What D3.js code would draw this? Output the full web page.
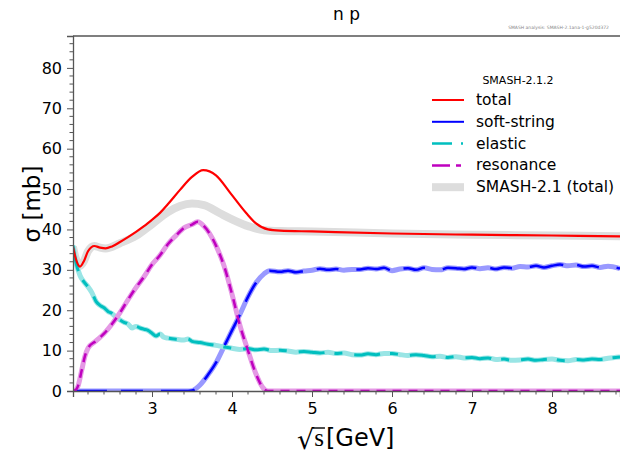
<!DOCTYPE html>
<html>
<head>
<meta charset="utf-8">
<script src="https://cdn.jsdelivr.net/npm/d3@7"></script>
<style>
  body { margin: 0; background: white; }
  text { font-family: "DejaVu Sans", sans-serif; }
</style>
</head>
<body>
<div id="chart"></div>
<script>
const width = 620;
const height = 456;

// sqrt(s) [GeV] , sigma [mb]
const total = [[2.012, 35.7], [2.05, 32.6], [2.1, 30.8], [2.15, 32.2], [2.2, 34.6], [2.28, 35.9], [2.35, 35.5],
  [2.42, 35.3], [2.5, 35.8], [2.6, 36.9], [2.7, 38.1], [2.8, 39.4], [2.9, 40.8], [3.0, 42.4], [3.1, 44.1],
  [3.2, 46.3], [3.35, 49.8], [3.5, 53.0], [3.64, 54.7], [3.8, 53.4], [3.98, 49.0], [4.18, 44.0], [4.3, 41.5],
  [4.45, 40.0], [4.6, 39.7], [5.0, 39.5], [6.0, 39.0], [7.0, 38.7], [8.0, 38.5], [8.85, 38.3]];

const totalOld = [[2.012, 35.7], [2.05, 32.6], [2.1, 31.0], [2.15, 32.2], [2.2, 34.6], [2.28, 35.9], [2.35, 35.5],
  [2.42, 35.3], [2.6, 36.6], [2.8, 38.4], [3.0, 41.3], [3.2, 44.3], [3.35, 45.8], [3.5, 46.4], [3.65, 46.0],
  [3.85, 44.0], [3.98, 42.7], [4.22, 40.7], [4.4, 39.8], [4.6, 39.6], [5.0, 39.5], [6.0, 39.0], [7.0, 38.7],
  [8.0, 38.5], [8.85, 38.3]];

const softString = [[2.012, 0], [3.45, 0], [3.5, 0.1], [3.6, 1.5], [3.7, 4.0], [3.8, 7.0], [3.9, 11.0], [4.0, 15.0],
  [4.1, 19.0], [4.2, 23.3], [4.3, 26.8], [4.4, 29.0], [4.47, 29.8], [4.6, 29.5], [4.7, 29.8], [4.8, 29.4],
  [4.9, 29.7], [5.0, 29.9], [5.1, 30.3], [5.2, 30.0], [5.3, 30.2], [5.4, 29.9], [5.5, 30.1], [5.6, 30.1],
  [5.7, 30.4], [5.8, 30.2], [5.9, 30.5], [6.0, 29.8], [6.1, 30.2], [6.2, 30.4], [6.3, 30.0], [6.4, 30.5],
  [6.5, 30.1], [6.6, 30.0], [6.7, 30.5], [6.8, 30.4], [6.9, 30.2], [7.0, 30.6], [7.1, 30.3], [7.2, 30.5],
  [7.3, 30.2], [7.4, 30.6], [7.5, 30.4], [7.6, 30.8], [7.7, 30.7], [7.8, 31.0], [7.9, 30.6], [8.0, 31.0],
  [8.1, 31.3], [8.2, 31.0], [8.3, 31.2], [8.4, 30.8], [8.5, 31.0], [8.6, 30.6], [8.7, 30.9], [8.85, 30.3]];

const elastic = [[2.012, 36.0], [2.05, 31.8], [2.1, 28.6], [2.15, 27.0], [2.2, 25.8], [2.25, 24.3], [2.3, 22.2],
  [2.35, 21.2], [2.4, 20.6], [2.45, 19.7], [2.5, 19.2], [2.55, 18.3], [2.6, 17.6], [2.65, 17.0], [2.7, 16.6],
  [2.75, 15.6], [2.8, 16.0], [2.85, 15.6], [2.9, 15.3], [2.95, 15.0], [3.0, 14.3], [3.05, 13.6], [3.1, 14.1],
  [3.15, 13.3], [3.2, 13.1], [3.3, 12.8], [3.4, 12.6], [3.45, 12.9], [3.5, 12.3], [3.6, 12.0], [3.7, 11.6],
  [3.8, 11.3], [3.9, 10.9], [4.0, 10.6], [4.1, 10.3], [4.2, 10.5], [4.3, 10.2], [4.4, 10.4], [4.5, 10.0],
  [4.6, 10.1], [4.7, 9.9], [4.8, 9.6], [4.9, 9.8], [5.0, 9.6], [5.1, 9.4], [5.2, 9.6], [5.3, 9.3], [5.4, 9.4],
  [5.5, 9.0], [5.6, 8.9], [5.7, 9.2], [5.8, 9.0], [5.9, 9.3], [6.0, 9.3], [6.1, 9.0], [6.2, 8.8], [6.3, 9.0],
  [6.4, 8.8], [6.5, 8.5], [6.6, 8.6], [6.7, 8.3], [6.8, 8.5], [6.9, 8.2], [7.0, 8.3], [7.1, 8.0], [7.2, 8.2],
  [7.3, 7.8], [7.4, 7.9], [7.5, 7.6], [7.6, 7.7], [7.7, 7.9], [7.8, 7.6], [7.9, 7.8], [8.0, 7.9], [8.1, 7.6],
  [8.2, 7.5], [8.3, 7.8], [8.4, 7.7], [8.5, 7.9], [8.6, 7.8], [8.7, 8.1], [8.85, 8.4]];

const resonance = [[2.012, 0], [2.05, 0.3], [2.08, 1.5], [2.12, 5.0], [2.16, 8.5], [2.2, 10.6], [2.3, 12.4],
  [2.4, 14.2], [2.5, 16.6], [2.6, 19.4], [2.7, 22.6], [2.8, 25.6], [2.9, 28.3], [3.0, 31.3], [3.1, 33.6],
  [3.2, 36.4], [3.3, 38.5], [3.4, 40.4], [3.5, 41.2], [3.57, 41.9], [3.65, 40.8], [3.72, 39.0], [3.8, 36.0],
  [3.9, 31.0], [4.0, 24.0], [4.1, 16.2], [4.2, 10.0], [4.3, 4.2], [4.38, 1.0], [4.45, 0], [8.85, 0]];

const xTicks = [3, 4, 5, 6, 7, 8];
const yTicks = [0, 10, 20, 30, 40, 50, 60, 70, 80];

const legendItems = [
  { label: 'total', color: '#ff0000', width: 2, dash: null },
  { label: 'soft-string', color: '#0000ff', width: 2, dash: null },
  { label: 'elastic', color: '#00bfbf', width: 2.5, dash: '20,9,2,9' },
  { label: 'resonance', color: '#bf00bf', width: 2.5, dash: '18,6,5,6' },
  { label: 'SMASH-2.1 (total)', color: '#dddddd', width: 8, dash: null }
];

const margin = { left: 73, right: 0, top: 36, bottom: 65 };
const plotW = width - margin.left - margin.right;
const plotH = height - margin.top - margin.bottom;

const svg = d3.select('#chart').append('svg')
  .attr('width', width)
  .attr('height', height)
  .style('background-color', 'white');

const scaleX = d3.scaleLinear()
  .domain([2.0125, 8.85])
  .range([margin.left, margin.left + plotW]);

const scaleY = d3.scaleLinear()
  .domain([0, 87.9])
  .range([margin.top + plotH, margin.top]);

svg.append('defs').append('clipPath')
  .attr('id', 'plotclip')
  .append('rect')
  .attr('x', margin.left)
  .attr('y', margin.top - 5)
  .attr('width', plotW)
  .attr('height', plotH + 5);

const line = d3.line()
  .x(d => scaleX(d[0]))
  .y(d => scaleY(d[1]))
  .curve(d3.curveMonotoneX);

const plot = svg.append('g').attr('clip-path', 'url(#plotclip)');

// light bands (SMASH-2.1)
plot.append('path').datum(totalOld)
  .attr('d', line).attr('fill', 'none')
  .attr('stroke', '#dddddd').attr('stroke-width', 8).attr('stroke-linejoin', 'round');
plot.append('path').datum(softString)
  .attr('d', line).attr('fill', 'none')
  .attr('stroke', '#9999ff').attr('stroke-width', 5);
plot.append('path').datum(elastic)
  .attr('d', line).attr('fill', 'none')
  .attr('stroke', '#99e5e5').attr('stroke-width', 5);
plot.append('path').datum(resonance)
  .attr('d', line).attr('fill', 'none')
  .attr('stroke', '#e599e5').attr('stroke-width', 5);

// current lines
plot.append('path').datum(softString)
  .attr('d', line).attr('fill', 'none')
  .attr('stroke', '#0000ff').attr('stroke-width', 2.5)
  .attr('stroke-dasharray', '34,14,22,18');
plot.append('path').datum(elastic)
  .attr('d', line).attr('fill', 'none')
  .attr('stroke', '#00bfbf').attr('stroke-width', 3)
  .attr('stroke-dasharray', '26,10,8,12');
plot.append('path').datum(resonance)
  .attr('d', line).attr('fill', 'none')
  .attr('stroke', '#bf00bf').attr('stroke-width', 2.5)
  .attr('stroke-dasharray', '9,7');
plot.append('path').datum(total)
  .attr('d', line).attr('fill', 'none')
  .attr('stroke', '#ff0000').attr('stroke-width', 2.2);

// axes
const axisColor = '#555';
const xMinor = d3.range(2.2, 8.85, 0.2).filter(v => Math.abs(v - Math.round(v)) > 0.01);
const yMinor = d3.range(2, 88, 2).filter(v => v % 10 !== 0);

const xAxis = svg.append('g')
  .attr('transform', `translate(0, ${margin.top + plotH})`)
  .call(d3.axisBottom(scaleX).tickValues(xTicks).tickSize(6).tickPadding(6).tickFormat(d3.format('d')));
xAxis.append('g').selectAll('line').data(xMinor).enter().append('line')
  .attr('x1', d => scaleX(d)).attr('x2', d => scaleX(d))
  .attr('y1', 0).attr('y2', 3.5).attr('stroke', axisColor);

const yAxis = svg.append('g')
  .attr('transform', `translate(${margin.left}, 0)`)
  .call(d3.axisLeft(scaleY).tickValues(yTicks).tickSize(6).tickPadding(5).tickFormat(d3.format('d')));
yAxis.append('g').selectAll('line').data(yMinor).enter().append('line')
  .attr('y1', d => scaleY(d)).attr('y2', d => scaleY(d))
  .attr('x1', 0).attr('x2', -3.5).attr('stroke', axisColor);

[xAxis, yAxis].forEach(ax => {
  ax.select('.domain').attr('stroke', axisColor).attr('stroke-width', 1.3);
  ax.selectAll('.tick line').attr('stroke', axisColor);
  ax.selectAll('.tick text')
    .attr('fill', '#000')
    .style('font-family', '"DejaVu Sans", sans-serif')
    .style('font-size', '16px');
});

// top spine
svg.append('line')
  .attr('x1', margin.left).attr('x2', margin.left + plotW)
  .attr('y1', margin.top).attr('y2', margin.top)
  .attr('stroke', axisColor).attr('stroke-width', 1.3);

// title
svg.append('text')
  .attr('x', margin.left + plotW / 2)
  .attr('y', 20)
  .attr('text-anchor', 'middle')
  .style('font-size', '17px')
  .text('n p');

// small version note
svg.append('text')
  .attr('x', 609)
  .attr('y', 29)
  .attr('text-anchor', 'end')
  .attr('fill', '#888')
  .style('font-size', '4.5px')
  .text('SMASH analysis: SMASH-2.1ana-1-g520d372');

// y label
svg.append('text')
  .attr('transform', 'translate(40, 204) rotate(-90)')
  .attr('text-anchor', 'middle')
  .style('font-size', '23px')
  .text('σ [mb]');

// x label: sqrt(s) [GeV]
const xLabel = svg.append('text')
  .attr('x', 297)
  .attr('y', 446)
  .style('font-size', '24px');
xLabel.append('tspan')
  .attr('dy', 3)
  .style('font-family', '"DejaVu Serif", serif')
  .style('font-size', '27px')
  .text('√');
const sSpan = xLabel.append('tspan')
  .attr('dy', -3)
  .style('font-family', '"Liberation Serif", serif')
  .style('font-size', '25px')
  .text('s');
xLabel.append('tspan').attr('dx', 2).text('[GeV]');

const sBox = sSpan.node().getBBox();
svg.append('line')
  .attr('x1', sBox.x - 2).attr('x2', sBox.x + sBox.width + 1)
  .attr('y1', 428).attr('y2', 428)
  .attr('stroke', '#000').attr('stroke-width', 1.4);

// legend
const legend = svg.append('g');
legend.append('text')
  .attr('x', 518)
  .attr('y', 84)
  .attr('text-anchor', 'middle')
  .style('font-size', '11px')
  .text('SMASH-2.1.2');

legendItems.forEach((item, i) => {
  const y = 100 + i * 21.8;
  legend.append('line')
    .attr('x1', 432).attr('x2', 464)
    .attr('y1', y).attr('y2', y)
    .attr('stroke', item.color)
    .attr('stroke-width', item.width)
    .attr('stroke-dasharray', item.dash);
  legend.append('text')
    .attr('x', 476)
    .attr('y', y + 5)
    .style('font-size', '15.5px')
    .text(item.label);
});
</script>
</body>
</html>
